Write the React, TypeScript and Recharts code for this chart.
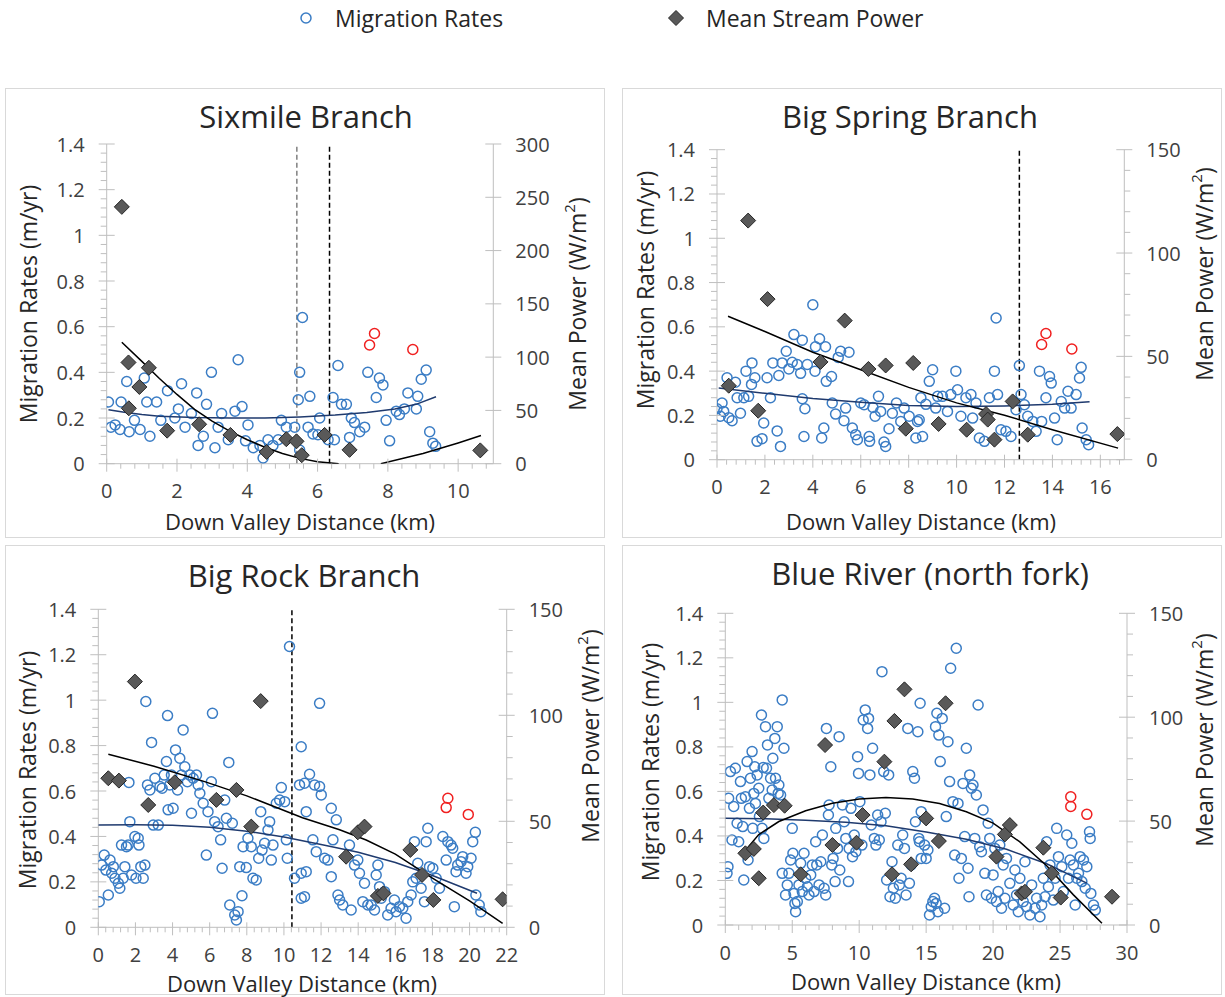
import React from 'react';
import { ScatterChart, Scatter, XAxis, YAxis, ReferenceLine } from 'recharts';

type Pair = [number, number];

// ---------- Sixmile Branch ----------
const sixmileRates: Pair[] = [
  [0.05, 0.27], [0.12, 0.16], [0.24, 0.17], [0.38, 0.15], [0.41, 0.27], [0.57, 0.36], [0.64, 0.14], [0.79, 0.19],
  [0.95, 0.15], [1.07, 0.375], [1.14, 0.27], [1.23, 0.12], [1.42, 0.27], [1.54, 0.19], [1.73, 0.32], [1.94, 0.2],
  [2.04, 0.24], [2.13, 0.35], [2.23, 0.16], [2.41, 0.22], [2.56, 0.31], [2.6, 0.08], [2.75, 0.12], [2.84, 0.26],
  [2.98, 0.4], [3.08, 0.07], [3.17, 0.16], [3.27, 0.22], [3.46, 0.105], [3.65, 0.23], [3.74, 0.455], [3.85, 0.25],
  [3.95, 0.1], [4.02, 0.17], [4.17, 0.07], [4.36, 0.08], [4.45, 0.025], [4.59, 0.105], [4.73, 0.08], [4.88, 0.105],
  [4.97, 0.19], [5.11, 0.16], [5.35, 0.16], [5.45, 0.28], [5.49, 0.4], [5.49, 0.06], [5.57, 0.64], [5.73, 0.16],
  [5.78, 0.295], [5.87, 0.13], [6.01, 0.127], [6.06, 0.2], [6.3, 0.105], [6.44, 0.29], [6.48, 0.105], [6.58, 0.43],
  [6.68, 0.26], [6.82, 0.26], [6.91, 0.115], [6.96, 0.2], [7.05, 0.18], [7.2, 0.14], [7.34, 0.16], [7.43, 0.4],
  [7.67, 0.29], [7.76, 0.375], [7.86, 0.345], [7.95, 0.19], [8.05, 0.1], [8.24, 0.23], [8.33, 0.215], [8.47, 0.24],
  [8.57, 0.31], [8.81, 0.24], [8.85, 0.295], [8.95, 0.37], [9.09, 0.41], [9.19, 0.14], [9.28, 0.09], [9.36, 0.076],
];
const sixmileOutliers: Pair[] = [[7.48, 0.52], [7.62, 0.57], [8.71, 0.5]];
const sixmilePower: Pair[] = [
  [0.43, 241], [0.62, 95], [0.63, 52], [0.93, 72], [1.2, 90], [1.72, 31], [2.63, 37], [3.52, 27],
  [4.55, 11], [5.11, 23], [5.4, 21], [5.55, 8], [6.2, 27], [6.91, 13], [10.63, 12.5],
];
const sixmileRateTrend: Pair[] = [
  [0.05, 0.236], [0.5, 0.225], [1, 0.215], [1.5, 0.208], [2.5, 0.202], [3.5, 0.2], [4.5, 0.2], [5.5, 0.205],
  [6.5, 0.213], [7.4, 0.224], [8.2, 0.24], [8.8, 0.26], [9.37, 0.293],
];
const sixmilePowerTrendA: Pair[] = [
  [0.43, 114], [1, 96], [1.5, 80], [2, 65], [2.5, 51], [3, 40], [3.5, 30.5], [4, 22.5],
  [4.5, 15.5], [5, 9.5], [5.5, 5], [6, 1.8], [6.6, 0],
];
const sixmilePowerTrendB: Pair[] = [[7.8, 0], [8.5, 5.5], [9, 9.5], [9.5, 14.5], [10, 19.5], [10.65, 26.5]];

// ---------- Big Spring Branch ----------
const bigSpringRates: Pair[] = [
  [0, 0.23], [0.14, 0.196], [0.21, 0.256], [0.28, 0.218], [0.42, 0.37], [0.49, 0.19], [0.63, 0.176], [0.77, 0.35],
  [0.84, 0.28], [0.98, 0.21], [1.12, 0.28], [1.21, 0.4], [1.32, 0.286], [1.44, 0.34], [1.46, 0.437], [1.58, 0.37],
  [1.67, 0.083], [1.88, 0.095], [1.95, 0.166], [2.09, 0.37], [2.23, 0.28], [2.33, 0.437], [2.51, 0.13], [2.58, 0.38],
  [2.65, 0.06], [2.72, 0.437], [2.89, 0.49], [3.0, 0.41], [3.14, 0.44], [3.21, 0.565], [3.35, 0.43], [3.49, 0.39],
  [3.56, 0.275], [3.56, 0.54], [3.63, 0.105], [3.67, 0.23], [3.77, 0.43], [4.0, 0.7], [4.09, 0.4], [4.11, 0.51],
  [4.28, 0.546], [4.37, 0.098], [4.46, 0.143], [4.53, 0.51], [4.56, 0.354], [4.78, 0.376], [4.81, 0.256], [4.95, 0.206],
  [5.06, 0.462], [5.16, 0.49], [5.3, 0.176], [5.37, 0.233], [5.51, 0.485], [5.65, 0.143], [5.79, 0.113], [5.86, 0.09],
  [6.0, 0.256], [6.14, 0.248], [6.35, 0.105], [6.37, 0.083], [6.51, 0.236], [6.6, 0.196], [6.74, 0.286], [6.83, 0.218],
  [6.97, 0.08], [7.04, 0.06], [7.18, 0.14], [7.32, 0.21], [7.49, 0.256], [7.67, 0.173], [7.81, 0.233], [8.02, 0.196],
  [8.3, 0.098], [8.37, 0.173], [8.44, 0.18], [8.51, 0.28], [8.58, 0.105], [8.72, 0.25], [8.86, 0.354], [9.0, 0.406],
  [9.13, 0.233], [9.21, 0.286], [9.41, 0.286], [9.62, 0.218], [9.76, 0.294], [9.97, 0.4], [10.04, 0.316], [10.18, 0.196],
  [10.39, 0.28], [10.6, 0.294], [10.67, 0.188], [10.81, 0.256], [10.95, 0.098], [11.16, 0.083], [11.37, 0.28], [11.58, 0.4],
  [11.65, 0.64], [11.71, 0.294], [11.85, 0.135], [12.06, 0.128], [12.27, 0.105], [12.48, 0.226], [12.62, 0.425], [12.69, 0.294],
  [12.83, 0.248], [12.97, 0.196], [13.18, 0.173], [13.32, 0.128], [13.46, 0.4], [13.55, 0.173], [13.73, 0.28], [13.88, 0.376],
  [13.95, 0.346], [14.09, 0.188], [14.2, 0.09], [14.37, 0.263], [14.51, 0.233], [14.65, 0.309], [14.78, 0.233], [14.99, 0.294],
  [15.13, 0.369], [15.2, 0.417], [15.24, 0.143], [15.41, 0.09], [15.51, 0.068],
];
const bigSpringOutliers: Pair[] = [[13.55, 0.52], [13.73, 0.57], [14.81, 0.5]];
const bigSpringPower: Pair[] = [
  [0.49, 35.8], [1.3, 115.7], [1.72, 23.7], [2.11, 77.7], [4.32, 47.3], [5.33, 67.3], [6.32, 43.9], [7.04, 45.6],
  [7.88, 15], [8.19, 46.8], [9.25, 17.3], [10.42, 14.5], [11.23, 22.1], [11.3, 19.4], [11.58, 9.7], [12.34, 28.2],
  [12.97, 12.1], [16.71, 12.4],
];
const bigSpringRateTrend: Pair[] = [
  [0.07, 0.324], [2, 0.3], [4, 0.276], [6, 0.26], [8, 0.245], [10, 0.24], [12, 0.243], [14, 0.25], [15.55, 0.262],
];
const bigSpringPowerTrend: Pair[] = [
  [0.46, 69.4], [2, 62], [4, 52], [6, 43.5], [8, 35], [10, 27.5], [12, 21.5], [14, 14.5], [16.74, 5.6],
];

// ---------- Big Rock Branch ----------
const bigRockRates: Pair[] = [
  [0.05, 0.113], [0.18, 0.274], [0.32, 0.318], [0.41, 0.252], [0.54, 0.142], [0.63, 0.296], [0.72, 0.238], [0.81, 0.267],
  [0.9, 0.216], [1.08, 0.194], [1.16, 0.172], [1.25, 0.362], [1.34, 0.216], [1.43, 0.267], [1.52, 0.355], [1.61, 0.362],
  [1.65, 0.638], [1.7, 0.465], [1.79, 0.23], [1.97, 0.4], [2.03, 0.216], [2.15, 0.392], [2.19, 0.362], [2.29, 0.267],
  [2.42, 0.216], [2.51, 0.274], [2.56, 0.994], [2.65, 0.627], [2.78, 0.605], [2.87, 0.814], [2.96, 0.45], [3.05, 0.656],
  [3.23, 0.45], [3.32, 0.62], [3.44, 0.612], [3.55, 0.67], [3.67, 0.73], [3.73, 0.932], [3.76, 0.517], [3.85, 0.627],
  [3.94, 0.67], [4.03, 0.524], [4.16, 0.781], [4.27, 0.605], [4.39, 0.744], [4.48, 0.67], [4.57, 0.869], [4.66, 0.707],
  [4.8, 0.641], [4.93, 0.67], [5.02, 0.502], [5.11, 0.656], [5.29, 0.67], [5.38, 0.627], [5.47, 0.59], [5.65, 0.546],
  [5.82, 0.318], [5.91, 0.509], [6.09, 0.641], [6.15, 0.942], [6.27, 0.465], [6.45, 0.443], [6.59, 0.385], [6.67, 0.26],
  [6.81, 0.56], [6.9, 0.48], [7.03, 0.726], [7.08, 0.098], [7.22, 0.458], [7.35, 0.054], [7.44, 0.032], [7.53, 0.069],
  [7.62, 0.267], [7.74, 0.139], [7.8, 0.355], [7.97, 0.263], [8.06, 0.392], [8.24, 0.355], [8.33, 0.216], [8.51, 0.208],
  [8.64, 0.304], [8.75, 0.509], [8.82, 0.34], [8.96, 0.37], [9.14, 0.428], [9.23, 0.465], [9.32, 0.296], [9.41, 0.362],
  [9.59, 0.546], [9.77, 0.56], [9.86, 0.615], [10.04, 0.553], [10.13, 0.385], [10.18, 0.304], [10.3, 1.236], [10.57, 0.216],
  [10.84, 0.627], [10.93, 0.795], [10.93, 0.238], [10.93, 0.128], [11.11, 0.634], [11.11, 0.135], [11.2, 0.509], [11.2, 0.245],
  [11.38, 0.674], [11.56, 0.385], [11.65, 0.627], [11.74, 0.333], [11.92, 0.986], [11.92, 0.62], [12.01, 0.583], [12.19, 0.304],
  [12.37, 0.296], [12.55, 0.524], [12.55, 0.223], [12.64, 0.385], [12.82, 0.473], [12.91, 0.142], [13.0, 0.12], [13.17, 0.098],
  [13.53, 0.362], [13.62, 0.076], [13.8, 0.274], [13.98, 0.296], [14.07, 0.238], [14.25, 0.113], [14.34, 0.194], [14.52, 0.098],
  [14.7, 0.098], [14.88, 0.076], [14.97, 0.23], [15.06, 0.274], [15.15, 0.179], [15.24, 0.128], [15.42, 0.157], [15.59, 0.054],
  [15.77, 0.084], [15.95, 0.12], [16.04, 0.069], [16.22, 0.091], [16.4, 0.084], [16.58, 0.04], [16.67, 0.113], [16.85, 0.142],
  [16.94, 0.2], [17.03, 0.377], [17.12, 0.216], [17.21, 0.282], [17.39, 0.172], [17.57, 0.113], [17.66, 0.377], [17.75, 0.436],
  [17.84, 0.267], [18.02, 0.26], [18.2, 0.216], [18.38, 0.172], [18.56, 0.4], [18.74, 0.296], [18.83, 0.377], [19.0, 0.362],
  [19.09, 0.348], [19.18, 0.091], [19.27, 0.245], [19.36, 0.274], [19.54, 0.289], [19.63, 0.311], [19.81, 0.238], [19.9, 0.267],
  [20.08, 0.304], [20.17, 0.377], [20.31, 0.418], [20.34, 0.142], [20.52, 0.098], [20.61, 0.069],
];
const bigRockOutliers: Pair[] = [[18.74, 0.527], [18.83, 0.568], [19.93, 0.497]];
const bigRockPower: Pair[] = [
  [0.54, 70.3], [1.11, 69.2], [1.97, 115.9], [2.69, 57.7], [4.12, 68.4], [6.36, 60.1], [7.44, 64.8], [8.24, 47.5],
  [8.75, 106.7], [13.35, 33.3], [13.98, 44.8], [14.34, 47.5], [15.06, 14.8], [15.36, 16], [16.81, 36.5], [17.44, 24.7],
  [18.05, 12.9], [21.78, 13.2],
];
const bigRockRateTrend: Pair[] = [
  [0, 0.45], [2, 0.451], [4, 0.449], [6, 0.44], [8, 0.423], [10, 0.398], [12, 0.365], [14, 0.33], [16, 0.285],
  [18, 0.228], [20.4, 0.15],
];
const bigRockPowerTrend: Pair[] = [
  [0.54, 81.6], [3, 76], [5.73, 68.7], [8, 62], [11, 51.7], [13, 46], [14.43, 41.2], [16, 34.5], [18, 23.2],
  [20, 12.5], [21.78, 1.9],
];

// ---------- Blue River (north fork) ----------
const blueRiverRates: Pair[] = [
  [0.13, 0.232], [0.2, 0.262], [0.25, 0.569], [0.38, 0.689], [0.5, 0.382], [0.63, 0.532], [0.75, 0.704], [0.88, 0.457],
  [1.0, 0.374], [1.13, 0.644], [1.2, 0.569], [1.3, 0.442], [1.38, 0.202], [1.5, 0.576], [1.63, 0.734], [1.7, 0.292],
  [1.8, 0.524], [1.88, 0.659], [2.0, 0.779], [2.05, 0.434], [2.13, 0.591], [2.2, 0.711], [2.25, 0.546], [2.38, 0.674],
  [2.5, 0.614], [2.55, 0.487], [2.7, 0.943], [2.75, 0.434], [2.83, 0.707], [2.88, 0.389], [3.0, 0.891], [3.08, 0.704],
  [3.15, 0.809], [3.25, 0.569], [3.38, 0.659], [3.5, 0.606], [3.55, 0.749], [3.7, 0.838], [3.75, 0.659], [3.88, 0.891],
  [3.95, 0.591], [4.0, 0.629], [4.13, 0.584], [4.25, 1.011], [4.38, 0.794], [4.25, 0.232], [4.5, 0.135], [4.63, 0.18],
  [4.75, 0.232], [4.88, 0.292], [5.0, 0.434], [5.05, 0.322], [5.13, 0.142], [5.2, 0.097], [5.25, 0.06], [5.38, 0.105],
  [5.5, 0.18], [5.63, 0.277], [5.75, 0.15], [5.88, 0.322], [6.0, 0.21], [6.13, 0.172], [6.25, 0.135], [6.38, 0.225],
  [6.5, 0.27], [6.63, 0.15], [6.75, 0.374], [6.83, 0.27], [7.0, 0.18], [7.13, 0.284], [7.25, 0.404], [7.38, 0.165],
  [7.5, 0.135], [7.55, 0.883], [7.7, 0.494], [7.75, 0.539], [7.88, 0.711], [7.95, 0.27], [8.05, 0.299], [8.2, 0.195],
  [8.25, 0.434], [8.38, 0.344], [8.5, 0.846], [8.55, 0.247], [8.75, 0.539], [8.88, 0.464], [9.0, 0.389], [9.2, 0.195],
  [9.25, 0.344], [9.38, 0.524], [9.5, 0.307], [9.63, 0.404], [9.75, 0.329], [9.88, 0.756], [9.95, 0.681], [10.05, 0.554],
  [10.2, 0.359], [10.3, 0.921], [10.45, 0.966], [10.63, 0.883], [10.7, 0.928], [10.8, 0.674], [10.9, 0.449], [11.0, 0.794],
  [11.13, 0.389], [11.25, 0.359], [11.38, 0.494], [11.5, 0.382], [11.63, 0.464], [11.7, 1.138], [11.83, 0.689], [11.95, 0.502],
  [12.05, 0.202], [12.2, 0.674], [12.3, 0.127], [12.45, 0.284], [12.55, 0.165], [12.7, 0.12], [12.88, 0.359], [13.0, 0.18],
  [13.13, 0.21], [13.25, 0.404], [13.38, 0.344], [13.5, 0.135], [13.63, 0.883], [13.75, 0.187], [13.88, 0.27], [14.0, 0.689],
  [14.13, 0.659], [14.2, 0.464], [14.38, 0.868], [14.45, 0.389], [14.55, 0.996], [14.63, 0.299], [14.63, 0.509], [14.5, 0.374],
  [14.88, 0.359], [15.0, 0.299], [15.13, 0.337], [15.25, 0.045], [15.38, 0.082], [15.5, 0.105], [15.63, 0.12], [15.75, 0.097],
  [15.88, 0.06], [15.7, 0.891], [15.8, 0.951], [15.95, 0.853], [16.05, 0.734], [16.2, 0.928], [16.38, 0.075], [16.5, 0.487],
  [16.63, 0.823], [16.75, 0.644], [16.83, 1.153], [17.0, 0.554], [17.13, 0.314], [17.25, 1.243], [17.38, 0.546], [17.45, 0.21],
  [17.63, 0.299], [17.75, 0.636], [17.88, 0.397], [18.0, 0.794], [18.13, 0.255], [18.2, 0.127], [18.25, 0.674], [18.38, 0.614],
  [18.5, 0.629], [18.63, 0.389], [18.75, 0.584], [18.88, 0.988], [19.0, 0.352], [19.13, 0.329], [19.25, 0.517], [19.38, 0.232],
  [19.5, 0.135], [19.63, 0.457], [19.75, 0.389], [19.88, 0.12], [20.0, 0.225], [20.13, 0.344], [20.25, 0.105], [20.38, 0.15],
  [20.5, 0.359], [20.63, 0.075], [20.75, 0.27], [20.88, 0.12], [21.0, 0.299], [21.25, 0.187], [21.5, 0.09], [21.63, 0.247],
  [21.75, 0.135], [21.88, 0.06], [22.0, 0.21], [22.25, 0.105], [22.38, 0.284], [22.5, 0.082], [22.75, 0.045], [22.88, 0.18],
  [23.13, 0.075], [23.25, 0.12], [23.5, 0.037], [23.63, 0.09], [23.75, 0.21], [23.88, 0.127], [24.0, 0.374], [24.13, 0.172],
  [24.25, 0.27], [24.5, 0.112], [24.63, 0.21], [24.75, 0.434], [24.88, 0.307], [25.13, 0.262], [25.25, 0.15], [25.5, 0.404],
  [25.63, 0.21], [25.75, 0.292], [25.88, 0.367], [26.0, 0.27], [26.13, 0.09], [26.25, 0.21], [26.38, 0.232], [26.5, 0.307],
  [26.63, 0.195], [26.75, 0.292], [26.88, 0.165], [27.0, 0.262], [27.2, 0.419], [27.25, 0.389], [27.3, 0.142], [27.5, 0.09],
  [27.63, 0.067],
];
const blueRiverOutliers: Pair[] = [[25.8, 0.576], [25.8, 0.532], [27.0, 0.497]];
const blueRiverPower: Pair[] = [
  [1.5, 34.5], [2.13, 36.6], [2.5, 22.5], [2.83, 54.1], [3.63, 57.7], [4.43, 57.4], [5.63, 24.4], [7.45, 86.6],
  [8.0, 38.5], [9.8, 39.6], [10.25, 52.9], [11.88, 78.6], [12.45, 24.4], [12.63, 98.2], [13.38, 113.4], [13.88, 29.2],
  [15.0, 51.3], [15.95, 40.4], [16.45, 106.7], [20.25, 32.9], [20.88, 43.6], [21.25, 48.1], [22.13, 15.2], [22.38, 16],
  [23.75, 37.2], [24.38, 24.9], [25.05, 13.2], [28.88, 13.6],
];
const blueRiverRateTrend: Pair[] = [
  [0, 0.479], [3, 0.477], [6, 0.471], [9, 0.462], [12, 0.446], [15, 0.418], [18, 0.385], [21, 0.34], [24, 0.275], [27, 0.188],
];
const blueRiverPowerTrend: Pair[] = [
  [1.38, 35], [2.5, 43.5], [4, 49.8], [6, 55], [8, 58.6], [10, 60.6], [12, 61.3], [14, 60.6], [16, 58.5], [18, 54.5],
  [20, 49], [22, 40], [24, 28.5], [26, 14.5], [28.13, 0.8],
];

const AXIS = '#bfbfbf';
const TICK_TEXT = '#404040';
const TITLE_TEXT = '#262626';
const BLUE = '#3b7dc5';
const RED = '#f02020';
const FONT = '"Open Sans", sans-serif';

const toPts = (arr: Pair[]) => arr.map(([x, y]) => ({ x, y }));
const steps = (max: number, step: number) =>
  Array.from({ length: Math.floor(max / step + 1e-9) + 1 }, (_, i) => Math.round(i * step * 1000) / 1000);
const isMajor = (v: number, step: number) => Math.abs(v / step - Math.round(v / step)) < 1e-6;
const fmt = (v: number) => String(Math.round(v * 100) / 100);

const makeYTick = (major: number, side: 'left' | 'right') => (props: any) => {
  const { x, y, payload } = props;
  const m = isMajor(payload.value, major);
  const d = side === 'left' ? -1 : 1;
  return (
    <g>
      <line x1={m ? x - 8 * d : x} x2={x + (m ? 8 : 6) * d} y1={y} y2={y} stroke={AXIS} strokeWidth={1} />
      {m && (
        <text x={x + 22 * d} y={y} textAnchor={side === 'left' ? 'end' : 'start'} dominantBaseline="central"
          fontSize={20} fontFamily={FONT} fill={TICK_TEXT}>
          {fmt(payload.value)}
        </text>
      )}
    </g>
  );
};

const makeXTick = (major: number) => (props: any) => {
  const { x, y, payload } = props;
  const m = isMajor(payload.value, major);
  return (
    <g>
      <line x1={x} x2={x} y1={m ? y - 5 : y} y2={y + (m ? 8 : 5)} stroke={AXIS} strokeWidth={1} />
      {m && (
        <text x={x} y={y + 27} textAnchor="middle" dominantBaseline="central" fontSize={20} fontFamily={FONT} fill={TICK_TEXT}>
          {fmt(payload.value)}
        </text>
      )}
    </g>
  );
};

const OpenCircle = (color: string) => (p: any) => (
  <circle cx={p.cx} cy={p.cy} r={5} fill="none" stroke={color} strokeWidth={1.5} />
);
const Diamond = (p: any) => {
  const s = 7.5;
  return (
    <path d={`M${p.cx},${p.cy - s}L${p.cx + s},${p.cy}L${p.cx},${p.cy + s}L${p.cx - s},${p.cy}Z`}
      fill="#595959" stroke="#262626" strokeWidth={1} />
  );
};
const NoDot = () => <g />;

interface PanelProps {
  left: number;
  top: number;
  title: string;
  titlePos: [number, number];
  leftTitlePos: [number, number];
  rightTitlePos: [number, number];
  xTitlePos: [number, number];
  plot: { l: number; r: number; t: number; b: number };
  xMax: number;
  xMajor: number;
  xMinor: number;
  powerMax: number;
  powerMinor: number;
  rates: Pair[];
  outliers: Pair[];
  power: Pair[];
  rateTrend: Pair[];
  powerTrends: Pair[][];
  dividers: { x: number; color: string }[];
}

const W = 600;
const H = 450;

const Panel = (p: PanelProps) => {
  const rateTicks = steps(1.4, 0.04);
  const powerTicks = steps(p.powerMax, p.powerMinor);
  const xTicks = steps(p.xMax, p.xMinor);
  return (
    <>
      <div style={{ position: 'absolute', left: p.left, top: p.top, width: W, height: H, border: '1px solid #d9d9d9', boxSizing: 'border-box', background: '#fff' }} />
      <div style={{ position: 'absolute', left: p.left, top: p.top, width: W, height: H }}>
        <ScatterChart width={W} height={H} margin={{ top: p.plot.t, right: 0, bottom: 0, left: 0 }}>
          <XAxis type="number" dataKey="x" domain={[0, p.xMax]} allowDataOverflow ticks={xTicks} interval={0}
            tick={makeXTick(p.xMajor)} tickLine={false} tickSize={0} tickMargin={0} height={H - p.plot.b}
            axisLine={{ stroke: AXIS }} />
          <YAxis yAxisId="left" type="number" dataKey="y" domain={[0, 1.4]} allowDataOverflow ticks={rateTicks} interval={0}
            tick={makeYTick(0.2, 'left')} tickLine={false} tickSize={0} tickMargin={0} width={p.plot.l}
            axisLine={{ stroke: AXIS }} />
          <YAxis yAxisId="right" orientation="right" type="number" dataKey="y" domain={[0, p.powerMax]} allowDataOverflow
            ticks={powerTicks} interval={0} tick={makeYTick(50, 'right')} tickLine={false} tickSize={0} tickMargin={0}
            width={W - p.plot.r} axisLine={{ stroke: AXIS }} />
          {p.dividers.map((d) => (
            <ReferenceLine key={d.x} x={d.x} yAxisId="left" stroke={d.color} strokeWidth={1.5} strokeDasharray="5 3" />
          ))}
          <Scatter yAxisId="left" data={toPts(p.rates)} shape={OpenCircle(BLUE)} isAnimationActive={false} />
          <Scatter yAxisId="left" data={toPts(p.outliers)} shape={OpenCircle(RED)} isAnimationActive={false} />
          <Scatter yAxisId="left" data={toPts(p.rateTrend)} shape={NoDot} line={{ stroke: '#1f3a6e', strokeWidth: 1.5 }}
            isAnimationActive={false} />
          {p.powerTrends.map((t, i) => (
            <Scatter key={i} yAxisId="right" data={toPts(t)} shape={NoDot} line={{ stroke: '#000', strokeWidth: 1.5 }}
              isAnimationActive={false} />
          ))}
          <Scatter yAxisId="right" data={toPts(p.power)} shape={Diamond} isAnimationActive={false} />
        </ScatterChart>
        <svg width={W} height={H} style={{ position: 'absolute', left: 0, top: 0, pointerEvents: 'none', overflow: 'visible' }}>
          <text x={p.titlePos[0]} y={p.titlePos[1]} textAnchor="middle" dominantBaseline="central" fontSize={31}
            fontFamily={FONT} fill={TITLE_TEXT}>
            {p.title}
          </text>
          <text x={p.leftTitlePos[0]} y={p.leftTitlePos[1]} transform={`rotate(-90 ${p.leftTitlePos[0]} ${p.leftTitlePos[1]})`}
            textAnchor="middle" dominantBaseline="central" fontSize={23} fontFamily={FONT} fill={TITLE_TEXT}>
            Migration Rates (m/yr)
          </text>
          <text x={p.rightTitlePos[0]} y={p.rightTitlePos[1]} transform={`rotate(-90 ${p.rightTitlePos[0]} ${p.rightTitlePos[1]})`}
            textAnchor="middle" dominantBaseline="central" fontSize={23} fontFamily={FONT} fill={TITLE_TEXT}>
            Mean Power (W/m<tspan dy={-8} fontSize={15}>2</tspan><tspan dy={8}>)</tspan>
          </text>
          <text x={p.xTitlePos[0]} y={p.xTitlePos[1]} textAnchor="middle" dominantBaseline="central" fontSize={22}
            fontFamily={FONT} fill={TITLE_TEXT}>
            Down Valley Distance (km)
          </text>
        </svg>
      </div>
    </>
  );
};

const panels: PanelProps[] = [
  {
    left: 5, top: 88, title: 'Sixmile Branch', titlePos: [301, 28], leftTitlePos: [23, 216], rightTitlePos: [572, 216],
    xTitlePos: [295, 433], plot: { l: 101.7, r: 488.3, t: 56, b: 375.7 }, xMax: 11, xMajor: 2, xMinor: 0.4,
    powerMax: 300, powerMinor: 50, rates: sixmileRates, outliers: sixmileOutliers, power: sixmilePower,
    rateTrend: sixmileRateTrend, powerTrends: [sixmilePowerTrendA, sixmilePowerTrendB],
    dividers: [{ x: 5.41, color: '#808080' }, { x: 6.34, color: '#000' }],
  },
  {
    left: 622, top: 88, title: 'Big Spring Branch', titlePos: [288, 28], leftTitlePos: [23, 202], rightTitlePos: [582, 186],
    xTitlePos: [299, 433], plot: { l: 95, r: 502.3, t: 61.7, b: 371.7 }, xMax: 17, xMajor: 2, xMinor: 0.4,
    powerMax: 150, powerMinor: 10, rates: bigSpringRates, outliers: bigSpringOutliers, power: bigSpringPower,
    rateTrend: bigSpringRateTrend, powerTrends: [bigSpringPowerTrend], dividers: [{ x: 12.62, color: '#000' }],
  },
  {
    left: 5, top: 545, title: 'Big Rock Branch', titlePos: [299, 30], leftTitlePos: [22, 225], rightTitlePos: [585, 191],
    xTitlePos: [297, 438], plot: { l: 93.3, r: 501.7, t: 64.3, b: 382.3 }, xMax: 22, xMajor: 2, xMinor: 0.4,
    powerMax: 150, powerMinor: 10, rates: bigRockRates, outliers: bigRockOutliers, power: bigRockPower,
    rateTrend: bigRockRateTrend, powerTrends: [bigRockPowerTrend], dividers: [{ x: 10.43, color: '#000' }],
  },
  {
    left: 622, top: 545, title: 'Blue River (north fork)', titlePos: [308, 28], leftTitlePos: [28, 217],
    rightTitlePos: [582, 195], xTitlePos: [304, 436], plot: { l: 103.3, r: 505, t: 68.3, b: 380 }, xMax: 30, xMajor: 5,
    xMinor: 1, powerMax: 150, powerMinor: 10, rates: blueRiverRates, outliers: blueRiverOutliers, power: blueRiverPower,
    rateTrend: blueRiverRateTrend, powerTrends: [blueRiverPowerTrend], dividers: [],
  },
];

export default function App() {
  return (
    <div style={{ position: 'absolute', left: 0, top: 0, width: 1225, height: 997, background: '#fff', fontFamily: FONT }}>
      <svg width={1225} height={40} style={{ position: 'absolute', left: 0, top: 0 }}>
        <circle cx={306} cy={18} r={5} fill="none" stroke={BLUE} strokeWidth={1.5} />
        <text x={335} y={18} dominantBaseline="central" fontSize={23} fontFamily={FONT} fill={TITLE_TEXT}>Migration Rates</text>
        <path d="M676,10.5L683.5,18L676,25.5L668.5,18Z" fill="#595959" stroke="#262626" strokeWidth={1} />
        <text x={706} y={18} dominantBaseline="central" fontSize={23} fontFamily={FONT} fill={TITLE_TEXT}>Mean Stream Power</text>
      </svg>
      {panels.map((p) => (
        <Panel key={p.title} {...p} />
      ))}
    </div>
  );
}
